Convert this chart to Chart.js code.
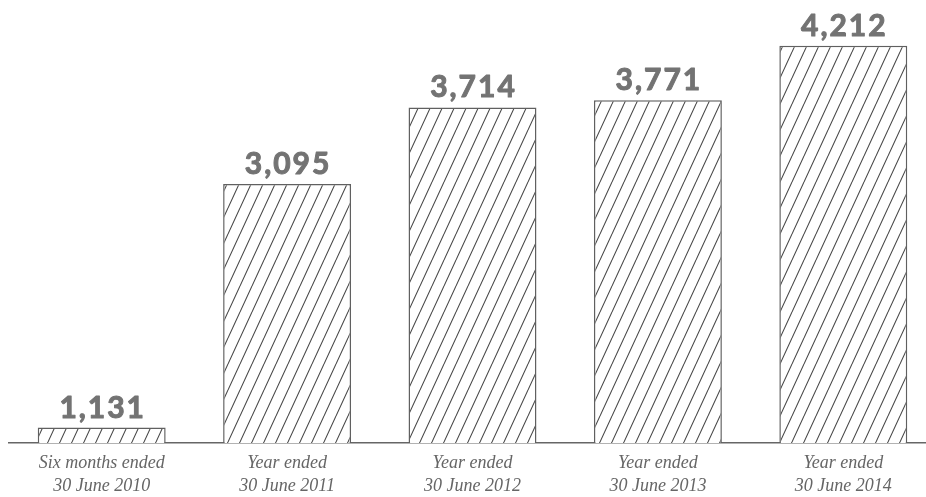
<!DOCTYPE html>
<html>
<head>
<meta charset="utf-8">
<script src="https://cdn.jsdelivr.net/npm/chart.js@4"></script>
<style>
  html, body { margin: 0; padding: 0; background: #fff; overflow: hidden; }
  #wrap { width: 936px; height: 497px; }
</style>
</head>
<body>
<div id="wrap"><canvas id="barChart" width="936" height="497"></canvas></div>
<script>
let periods = [
  ["Six months ended", "30 June 2010"],
  ["Year ended", "30 June 2011"],
  ["Year ended", "30 June 2012"],
  ["Year ended", "30 June 2013"],
  ["Year ended", "30 June 2014"]
];
let totals = [1131, 3095, 3714, 3771, 4212];

// diagonal hatch used to fill every bar
function makeHatch() {
  let tile = document.createElement("canvas");
  tile.width = 12;
  tile.height = 26;
  let t = tile.getContext("2d");
  t.fillStyle = "#fff";
  t.fillRect(0, 0, 12, 26);
  t.strokeStyle = "#4a4a4a";
  t.lineWidth = 1.1;
  t.beginPath();
  t.moveTo(-12, 52); t.lineTo(12, 0);
  t.moveTo(0, 52); t.lineTo(24, 0);
  t.moveTo(-12, 26); t.lineTo(0, 0);
  t.moveTo(0, 26); t.lineTo(12, 0);
  t.moveTo(12, 26); t.lineTo(24, 0);
  t.stroke();
  return t.createPattern(tile, "repeat");
}

// numbers printed above the bars (stroked a little to make them heavier)
let valueLabels = {
  id: "valueLabels",
  afterDatasetsDraw(chart) {
    let ctx = chart.ctx;
    let meta = chart.getDatasetMeta(0);
    ctx.save();
    ctx.font = "bold 30px Lato";
    ctx.letterSpacing = "2px";
    ctx.fillStyle = "#737373";
    ctx.strokeStyle = "#737373";
    ctx.lineWidth = 1;
    ctx.lineJoin = "round";
    ctx.textAlign = "center";
    ctx.textBaseline = "alphabetic";
    meta.data.forEach((bar, i) => {
      let txt = totals[i].toLocaleString("en-US");
      ctx.fillText(txt, bar.x + 1, bar.y - 10);
      ctx.strokeText(txt, bar.x + 1, bar.y - 10);
    });
    ctx.restore();
  }
};

let chart = new Chart(document.getElementById("barChart").getContext("2d"), {
  type: "bar",
  data: {
    labels: periods,
    datasets: [{
      data: totals,
      backgroundColor: makeHatch(),
      borderColor: "#606060",
      borderWidth: 1.5,
      borderSkipped: "bottom",
      categoryPercentage: 1,
      barPercentage: 0.69
    }]
  },
  options: {
    responsive: false,
    animation: false,
    devicePixelRatio: 1,
    layout: { padding: { left: 9, right: 0, top: 10, bottom: 0 } },
    plugins: { legend: { display: false }, tooltip: { enabled: false } },
    scales: {
      x: {
        grid: { display: false, drawTicks: false },
        border: { display: true, color: "#666", width: 1.5 },
        ticks: {
          color: "#666",
          padding: 9,
          maxRotation: 0,
          font: { family: "Liberation Serif", style: "italic", size: 18, lineHeight: 1.28 }
        },
        afterFit(axis) { axis.height = 54; }
      },
      y: {
        display: false,
        min: 1006,
        max: 4500
      }
    }
  },
  plugins: [valueLabels]
});
</script>
</body>
</html>
